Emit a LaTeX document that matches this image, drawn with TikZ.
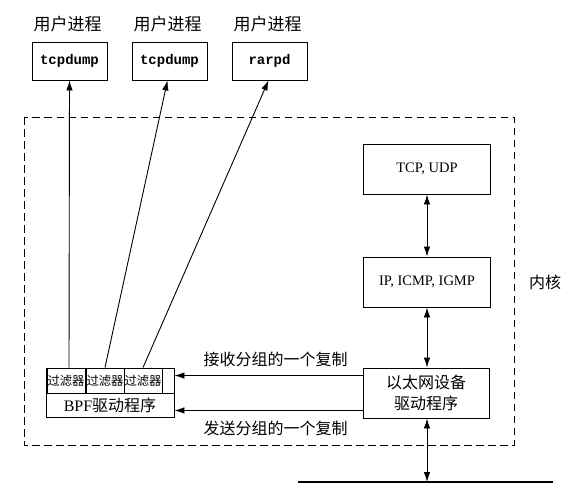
\documentclass[tikz,border=0pt]{standalone}
\usepackage{fontspec}
\setmainfont{Liberation Serif}
\setmonofont{Liberation Mono}
\newfontfamily\cjk{Noto Sans CJK SC}
\usetikzlibrary{arrows.meta}

\begin{document}
\begin{tikzpicture}[x=1pt, y=-1pt,
        box/.style={draw, line width=0.9pt, inner sep=0pt, font=\fontsize{14.5}{17}\selectfont},
        lbl/.style={inner sep=0pt, font=\cjk\fontsize{16}{18}\selectfont},
        arr/.style={line width=0.9pt, -{Latex[length=10pt, width=6.5pt]}},
        darr/.style={line width=0.9pt, {Latex[length=10pt, width=6.5pt]}-{Latex[length=10pt, width=6.5pt]}}]
    \useasboundingbox (0,0) rectangle (588,496);
    % kernel
    \draw[line width=0.9pt, dash pattern=on 7.5pt off 4.5pt] (24,117) rectangle (514,445);
    \node[lbl] (kern) at (545,282) {内核};
    % user processes
    \foreach \i/\x/\name in {1/69.5/tcpdump, 2/169.5/tcpdump, 3/269.5/rarpd}
    {
        \node[box, minimum width=75pt, minimum height=38pt, font=\ttfamily\bfseries\fontsize{14}{16}\selectfont] (user\i) at (\x,61) {\name};
        \node[lbl, font=\cjk\fontsize{17}{19}\selectfont] (ulbl\i) at (\x-2,24) {用户进程};
    }
    % protocol stack
    \node[box, minimum width=127pt, minimum height=50pt] (tcp) at (427,169) {TCP, UDP};
    \node[box, minimum width=127pt, minimum height=50pt] (ip) at (427,282) {IP, ICMP, IGMP};
    \node[box, minimum width=126pt, minimum height=50pt, align=center, font=\cjk\fontsize{16}{21}\selectfont] (eth) at (426,393) {以太网设备\\驱动程序};
    % BPF
    \node[box, minimum width=128pt, minimum height=25pt] (filtrow) at (110,380.5) {};
    \node[box, minimum width=128pt, minimum height=24pt, font=\fontsize{16}{18}\selectfont] (bpf) at (110,405) {BPF{\cjk 驱动程序}};
    \foreach \i/\x in {1/66, 2/105, 3/143}
    {
        \node[box, minimum width=38pt, minimum height=25pt, font=\cjk\fontsize{12.3}{14}\selectfont] (filt\i) at (\x,380.5) {过滤器};
    }
    % wire
    \coordinate (wireL) at (298,482);
    \coordinate (wireR) at (553,482);
    \coordinate (wire) at (427,482);
    \draw[line width=2.8pt] (wireL) -- (wireR);
    % connectors
    \draw[arr] ([xshift=3pt]filt1.north) -- ([xshift=0pt]user1.south);
    \draw[arr] (filt2.north) -- ([xshift=-2pt]user2.south);
    \draw[arr] (filt3.north) -- ([xshift=-1pt]user3.south);
    \draw[darr] (tcp) -- (ip);
    \draw[darr] (ip.south) -- (ip.south |- eth.north);
    \draw[darr] (eth.south -| wire) -- (wire);
    \draw[arr] ([yshift=-8pt]eth.north west) -- ([yshift=-8pt]eth.north west -| filtrow.east)
        node[lbl, midway, above=8pt, xshift=7pt] (rcv) {接收分组的一个复制};
    \draw[arr] ([yshift=8pt]eth.south west) -- ([yshift=8pt]eth.south west -| bpf.east)
        node[lbl, midway, below=10pt, xshift=7pt] (snd) {发送分组的一个复制};
\end{tikzpicture}
\end{document}
